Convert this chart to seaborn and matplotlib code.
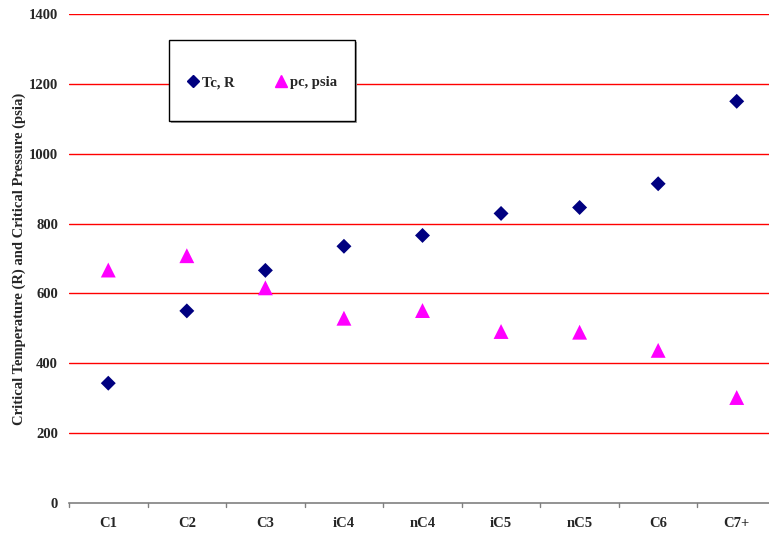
import matplotlib
matplotlib.use("Agg")
import matplotlib.pyplot as plt
import seaborn as sns
import pandas as pd
from matplotlib.patches import Rectangle
from matplotlib.lines import Line2D

components = ["C1", "C2", "C3", "iC4", "nC4", "iC5", "nC5", "C6", "C7+"]
tc_R = [343, 550, 666, 735, 766, 829, 846, 914, 1150]
pc_psia = [667, 708, 616, 529, 551, 491, 489, 437, 302]
y_ticks = [0, 200, 400, 600, 800, 1000, 1200, 1400]

df_tc = pd.DataFrame({"comp": components, "value": tc_R})
df_pc = pd.DataFrame({"comp": components, "value": pc_psia})

sns.set_style("white")
plt.rcParams["font.family"] = ["Liberation Serif", "DejaVu Serif"]
plt.rcParams["font.weight"] = "bold"

fig = plt.figure(figsize=(7.69, 5.33), dpi=100)
ax = fig.add_axes([69 / 769, 1 - 503 / 533, 707 / 769, 489 / 533])

for t in y_ticks[1:]:
    ax.axhline(t, color="#ff0000", lw=1.0, zorder=0)

sns.scatterplot(data=df_tc, x="comp", y="value", color="#000080", marker="D",
                s=58, edgecolor="none", ax=ax, legend=False, zorder=3)
sns.scatterplot(data=df_pc, x="comp", y="value", color="#ff00ff", marker="^",
                s=115, edgecolor="none", ax=ax, legend=False, zorder=3)

ax.set_xlim(-0.5, len(components) - 0.5)
ax.set_ylim(0, 1400)
ax.set_yticks(y_ticks)
ax.set_yticklabels([str(t) for t in y_ticks], fontsize=10.5, fontweight="bold")
ax.set_xticks(range(len(components)))
ax.set_xticklabels(components, fontsize=10.5, fontweight="bold")
ax.set_xlabel("")
ax.set_ylabel("Critical Temperature (R) and Critical Pressure (psia)",
              fontsize=10.5, fontweight="bold", labelpad=2)
for s in ["top", "right", "left"]:
    ax.spines[s].set_visible(False)
ax.spines["bottom"].set_color("#808080")
ax.spines["bottom"].set_linewidth(1.2)
ax.tick_params(axis="y", length=0, pad=8)
ax.tick_params(axis="x", length=0, pad=10)
for i in range(len(components) + 1):
    ax.plot([i - 0.5, i - 0.5], [0, -12], color="#808080", lw=1.0,
            clip_on=False, zorder=4)

# legend box
def ax_xy(px, py):
    return ((px - 69) / 707, (503 - py) / 489)

x0, y0 = ax_xy(169, 121)
x1, y1 = ax_xy(355, 40)
sx, sy = 2 / 707, 2 / 489
ax.add_patch(Rectangle((x0 + sx, y0 - sy), x1 - x0, y1 - y0, transform=ax.transAxes,
                       facecolor="#a0a0a0", edgecolor="none", zorder=5))
ax.add_patch(Rectangle((x0, y0), x1 - x0, y1 - y0, transform=ax.transAxes,
                       facecolor="white", edgecolor="black", lw=1.0, zorder=6))
handles = [Line2D([], [], ls="none", marker="D", color="#000080", markersize=6),
           Line2D([], [], ls="none", marker="^", color="#ff00ff", markersize=8)]
leg = ax.legend(handles, ["Tc, R", "pc, psia"], ncol=2, frameon=False,
                loc="center", bbox_to_anchor=((x0 + x1) / 2, (y0 + y1) / 2 - 0.004),
                prop={"family": "Liberation Serif", "weight": "bold", "size": 10.5},
                handlelength=0.8, handletextpad=0.2, columnspacing=2.8)
leg.set_zorder(7)

fig.savefig("out.png", dpi=100)
